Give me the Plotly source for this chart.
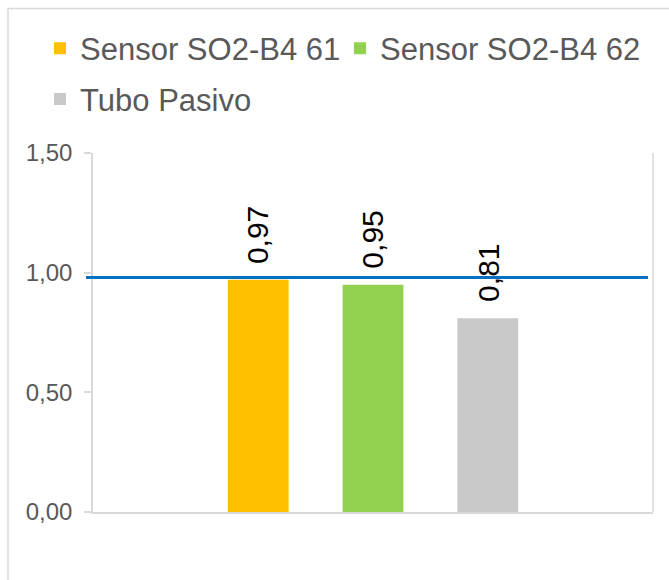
import plotly.graph_objects as go

# Series shown as bars (one bar per series)
series_names = ["Sensor SO2-B4 61", "Sensor SO2-B4 62", "Tubo Pasivo"]
series_values = [0.97, 0.95, 0.81]
series_colors = ["#FFC000", "#92D050", "#C9C9C9"]
series_legends = ["legend", "legend2", "legend3"]

# Reference level drawn as a horizontal line
reference_level = 0.98

# Y axis ticks
y_ticks = [0.0, 0.5, 1.0, 1.5]

FONT = "Arial, Liberation Sans, sans-serif"
GREY_LINE = "#D9D9D9"
TEXT_GREY = "#595959"

fig = go.Figure()

for name, val, col, lg in zip(series_names, series_values, series_colors, series_legends):
    fig.add_trace(go.Bar(
        x=[name], y=[val], name=name,
        marker=dict(color=col, line=dict(width=0)),
        width=0.53,
        legend=lg,
        hoverinfo="skip",
    ))
    fig.add_annotation(
        x=name, y=val, xref="x", yref="y",
        text=f"{val:.2f}".replace(".", ","),
        textangle=-90,
        showarrow=False,
        yanchor="bottom",
        yshift=14,
        font=dict(family=FONT, size=30, color="#000000"),
    )

# Horizontal reference line (extends slightly past the y axis on the left)
fig.add_shape(
    type="line", xref="paper", yref="y",
    x0=-0.0125, x1=0.991, y0=reference_level, y1=reference_level,
    line=dict(color="#0070C0", width=3),
)

# Right edge of the plot area
fig.add_shape(
    type="line", xref="paper", yref="paper",
    x0=1, x1=1, y0=0, y1=1,
    line=dict(color=GREY_LINE, width=1.5),
)

# Chart-area frame
fig.add_shape(
    type="rect", xref="paper", yref="paper",
    x0=-0.1518, x1=1.2, y0=-0.3, y1=1.4022,
    line=dict(color=GREY_LINE, width=1.5),
    fillcolor="rgba(0,0,0,0)",
    layer="below",
)

legend_common = dict(
    orientation="h",
    xanchor="left", yanchor="top",
    font=dict(family=FONT, size=31, color=TEXT_GREY),
    bgcolor="rgba(0,0,0,0)",
    borderwidth=0,
    itemclick=False, itemdoubleclick=False,
)

fig.update_layout(
    width=669, height=580,
    margin=dict(l=93, r=16, t=153, b=68, autoexpand=False),
    paper_bgcolor="white",
    plot_bgcolor="white",
    separators=",.",
    barmode="overlay",
    showlegend=True,
    legend=dict(x=-0.0946, y=1.366, **legend_common),
    legend2=dict(x=0.4411, y=1.366, **legend_common),
    legend3=dict(x=-0.0946, y=1.225, **legend_common),
    xaxis=dict(
        type="category",
        categoryorder="array", categoryarray=series_names,
        range=[-1.44, 3.44],
        showticklabels=False,
        ticks="",
        showgrid=False,
        zeroline=False,
        showline=True, linecolor=GREY_LINE, linewidth=1.5,
        fixedrange=True,
    ),
    yaxis=dict(
        range=[0, 1.5],
        tickvals=y_ticks,
        tickformat=".2f",
        ticks="outside", ticklen=7, tickcolor=GREY_LINE, tickwidth=1.5,
        showgrid=False,
        zeroline=False,
        showline=True, linecolor=GREY_LINE, linewidth=1.5,
        tickfont=dict(family=FONT, size=24, color=TEXT_GREY),
        ticklabelstandoff=7,
        fixedrange=True,
    ),
)

fig.write_html("out.html", config={"displayModeBar": False})
